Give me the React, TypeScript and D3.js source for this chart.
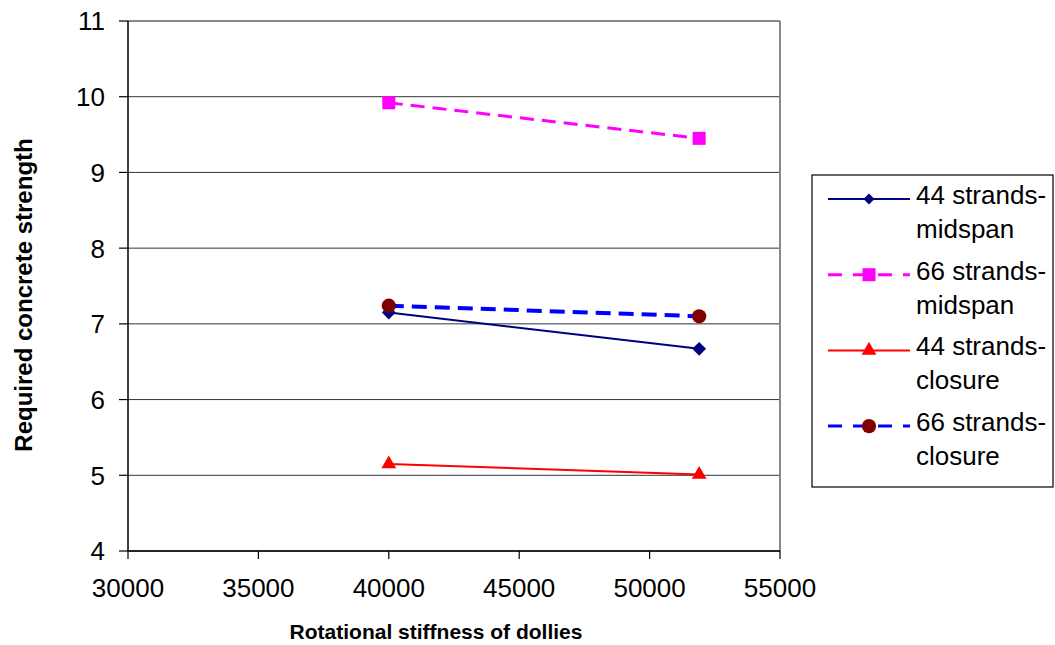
import * as d3 from "d3";
import * as React from "react";

// x values (rotational stiffness of dollies)
const stiffness = [40000, 51900];

// required concrete strength per series
const mid44 = [7.15, 6.67];
const mid66 = [9.92, 9.45];
const clo44 = [5.15, 5.01];
const clo66 = [7.24, 7.1];

const xTicks = [30000, 35000, 40000, 45000, 50000, 55000];
const yTicks = [4, 5, 6, 7, 8, 9, 10, 11];

type Series = {
  name: string[];
  values: number[];
  stroke: string;
  width: number;
  dash: string | null;
  symbol: "diamond" | "square" | "triangle" | "circle";
  fill: string;
};

const series: Series[] = [
  { name: ["44 strands-", "midspan"], values: mid44, stroke: "#000080", width: 2, dash: null, symbol: "diamond", fill: "#000080" },
  { name: ["66 strands-", "midspan"], values: mid66, stroke: "#ff00ff", width: 3, dash: "14,8", symbol: "square", fill: "#ff00ff" },
  { name: ["44 strands-", "closure"], values: clo44, stroke: "#ff0000", width: 2, dash: null, symbol: "triangle", fill: "#ff0000" },
  { name: ["66 strands-", "closure"], values: clo66, stroke: "#0000ff", width: 4, dash: "15,8", symbol: "circle", fill: "#800000" },
];

const W = 1055;
const H = 645;
const plot = { left: 128, right: 780, top: 21, bottom: 551 };
const font = "'Liberation Sans', Arial, sans-serif";

const symbolPath = (kind: Series["symbol"]) => {
  if (kind === "diamond") return d3.symbol(d3.symbolSquare, 95)()!;
  if (kind === "square") return d3.symbol(d3.symbolSquare, 169)()!;
  if (kind === "triangle") return d3.symbol(d3.symbolTriangle, 95)()!;
  return d3.symbol(d3.symbolCircle, 160)()!;
};

const App: React.FC = () => {
  const x = d3.scaleLinear().domain([30000, 55000]).range([plot.left, plot.right]);
  const y = d3.scaleLinear().domain([4, 11]).range([plot.bottom, plot.top]);
  const line = d3
    .line<number>()
    .x((_, i) => x(stiffness[i]))
    .y((d) => y(d));

  const legend = { left: 812, top: 175, right: 1053, bottom: 487 };

  return (
    <svg
      width={W}
      height={H}
      style={{ position: "absolute", left: 0, top: 0, background: "#fff" }}
      fontFamily={font}
    >
      {/* gridlines */}
      {yTicks.map((t) => (
        <line
          key={"g" + t}
          x1={plot.left}
          x2={plot.right}
          y1={y(t)}
          y2={y(t)}
          stroke={t === 11 ? "#888" : "#333"}
          strokeWidth={t === 11 ? 2 : 1}
        />
      ))}
      {/* right border */}
      <line x1={plot.right} x2={plot.right} y1={plot.top} y2={plot.bottom} stroke="#888" strokeWidth={2} />

      {/* axes */}
      <line x1={plot.left} x2={plot.left} y1={plot.top} y2={plot.bottom} stroke="#000" strokeWidth={1.5} />
      <line x1={plot.left} x2={plot.right} y1={plot.bottom} y2={plot.bottom} stroke="#000" strokeWidth={1.5} />

      {yTicks.map((t) => (
        <g key={"y" + t}>
          <line x1={plot.left - 9} x2={plot.left} y1={y(t)} y2={y(t)} stroke="#000" strokeWidth={1.2} />
          <text x={105} y={y(t)} dy="0.36em" textAnchor="end" fontSize={26}>
            {t}
          </text>
        </g>
      ))}
      {xTicks.map((t) => (
        <g key={"x" + t}>
          <line x1={x(t)} x2={x(t)} y1={plot.bottom} y2={plot.bottom + 8} stroke="#000" strokeWidth={1.2} />
          <text x={x(t)} y={597} textAnchor="middle" fontSize={26}>
            {t}
          </text>
        </g>
      ))}

      {/* axis titles */}
      <text x={436} y={639} textAnchor="middle" fontSize={21} fontWeight="bold">
        Rotational stiffness of dollies
      </text>
      <text
        transform={`translate(32,295) rotate(-90)`}
        textAnchor="middle"
        fontSize={24}
        fontWeight="bold"
      >
        Required concrete strength
      </text>

      {/* series */}
      {series.map((s, si) => (
        <g key={"s" + si}>
          <path
            d={line(s.values)!}
            fill="none"
            stroke={s.stroke}
            strokeWidth={s.width}
            strokeDasharray={s.dash ?? undefined}
          />
          {s.values.map((v, i) => (
            <path
              key={i}
              d={symbolPath(s.symbol)}
              transform={`translate(${x(stiffness[i])},${y(v)})${s.symbol === "diamond" ? " rotate(45)" : ""}`}
              fill={s.fill}
            />
          ))}
        </g>
      ))}

      {/* legend */}
      <rect
        x={legend.left}
        y={legend.top}
        width={legend.right - legend.left}
        height={legend.bottom - legend.top}
        fill="#fff"
        stroke="#000"
        strokeWidth={1.2}
      />
      {series.map((s, si) => {
        const cy = 199 + si * 75.7;
        return (
          <g key={"l" + si}>
            <line
              x1={828}
              x2={910}
              y1={cy}
              y2={cy}
              stroke={s.stroke}
              strokeWidth={s.width === 4 ? 3 : s.width}
              strokeDasharray={s.dash ? "14,11" : undefined}
            />
            <path
              d={symbolPath(s.symbol)}
              transform={`translate(869,${cy})${s.symbol === "diamond" ? " rotate(45) scale(0.8)" : ""}`}
              fill={s.fill}
            />
            <text x={916} y={cy + 5} fontSize={26}>
              {s.name[0]}
            </text>
            <text x={916} y={cy + 39} fontSize={26}>
              {s.name[1]}
            </text>
          </g>
        );
      })}
    </svg>
  );
};

export default App;
